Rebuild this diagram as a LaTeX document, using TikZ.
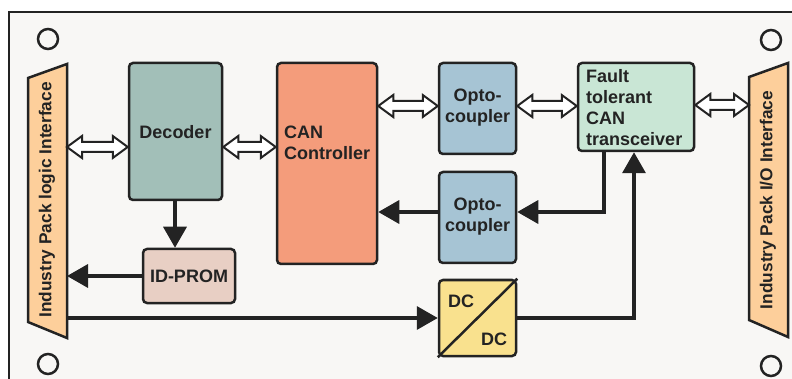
\documentclass[tikz,border=0pt]{standalone}
\usepackage{fontspec}
\setmainfont{Liberation Sans}
\usetikzlibrary{arrows.meta,calc}
\definecolor{bgc}{HTML}{F8F7F5}
\definecolor{ink}{HTML}{232323}
\definecolor{ifc}{HTML}{FDCF9B}
\definecolor{decc}{HTML}{A2BFB8}
\definecolor{promc}{HTML}{E8CFC4}
\definecolor{canc}{HTML}{F49C7B}
\definecolor{optc}{HTML}{A6C4D4}
\definecolor{ftc}{HTML}{C9E6D5}
\definecolor{dcc}{HTML}{F9E18E}
\tikzset{
  box/.style={draw=ink, line width=2.5pt, rounded corners=4pt, inner sep=0pt},
  txt/.style={text=ink, font=\fontsize{18}{21}\selectfont\bfseries, inner sep=0pt},
  iftxt/.style={text=ink, font=\fontsize{17.3}{20}\selectfont\bfseries, inner sep=0pt, rotate=90},
  arr/.style={draw=ink, line width=3.5pt, -{Triangle[length=21pt,width=23pt]}},
  dbl/.style={draw=ink, line width=2pt, fill=white, line join=miter,
    to path={let \p1=(\tikztostart), \p2=(\tikztotarget) in
      (\x1,\y1) -- (\x1+15pt,\y1+11pt) -- (\x1+15pt,\y1+5pt) -- (\x2-15pt,\y1+5pt)
      -- (\x2-15pt,\y1+11pt) -- (\x2,\y1) -- (\x2-15pt,\y1-11pt) -- (\x2-15pt,\y1-5pt)
      -- (\x1+15pt,\y1-5pt) -- (\x1+15pt,\y1-11pt) -- cycle}},
  hole/.style={draw=ink, line width=2.5pt}
}
\begin{document}
\begin{tikzpicture}[x=1pt,y=-1pt]
\useasboundingbox (0,0) rectangle (792,379);
\clip (0,0) rectangle (792,379);
\fill[white] (0,0) rectangle (792,379);
% frame
\draw[draw=ink, line width=2.5pt, fill=bgc] (9,12) rectangle (805,395);
% mounting holes
\draw[hole] (48,39) circle (10);
\draw[hole] (771,40) circle (10);
\draw[hole] (48,364) circle (10);
\draw[hole] (771,366) circle (10);
% interfaces
\draw[draw=ink, line width=2.5pt, fill=ifc, line join=miter] (28,78) -- (67,64) -- (67,338) -- (28,322) -- cycle;
\draw[draw=ink, line width=2.5pt, fill=ifc, line join=miter] (749,77) -- (788,63) -- (788,337) -- (749,320) -- cycle;
\node[iftxt] (liftxt) at (47,200) {Industry Pack logic Interface};
\node[iftxt] (riftxt) at (768,200) {Industry Pack I/O Interface};
\coordinate (lifE) at (67,200);
\coordinate (rifW) at (749,200);
% boxes
\node[box, fill=decc, minimum width=93pt, minimum height=137pt] (dec) at (175.5,131.5) {};
\node[txt] (dectxt) at (175.5,132) {Decoder};
\node[box, fill=promc, minimum width=92pt, minimum height=54pt] (prom) at (189,276) {};
\node[txt] (promtxt) at (189,276) {ID-PROM};
\node[box, fill=canc, minimum width=100pt, minimum height=201pt] (can) at (327,163.5) {};
\node[txt, anchor=west, align=left] (cantxt) at (284,142.5) {CAN\\Controller};
\node[box, fill=optc, minimum width=77pt, minimum height=91pt] (opt1) at (477.5,108.5) {};
\node[txt, align=center] (opt1txt) at (477.5,107.5) {Opto-\\coupler};
\node[box, fill=optc, minimum width=77pt, minimum height=91pt] (opt2) at (477.5,217.5) {};
\node[txt, align=center] (opt2txt) at (477.5,216.5) {Opto-\\coupler};
\node[box, fill=ftc, minimum width=116pt, minimum height=88pt] (ft) at (636,107) {};
\node[txt, anchor=west, align=left] (fttxt) at (586,107.5) {Fault\\tolerant\\CAN\\transceiver};
\node[box, fill=dcc, minimum width=77pt, minimum height=76pt] (dc) at (477.5,318) {};
\draw[draw=ink, line width=2.5pt] (dc.south west) -- (dc.north east);
\node[txt] (dc1) at (461,301) {DC};
\node[txt] (dc2) at (494,339) {DC};
% double arrows
\draw[dbl] (lifE |- 0,147) to (dec.west |- 0,147);
\draw[dbl] (dec.east |- 0,147) to (can.west |- 0,147);
\draw[dbl] (can.east |- 0,106) to (opt1.west |- 0,106);
\draw[dbl] (opt1.east |- 0,106) to (ft.west |- 0,106);
\draw[dbl] (ft.east |- 0,105) to (rifW |- 0,105);
% single arrows
\draw[arr] (dec.south -| 175,0) -- (prom.north -| 175,0);
\draw[arr] (prom.west) -- (lifE |- prom.west);
\draw[arr] (lifE |- dc.west) -- (dc.west);
\draw[arr] (dc.east) -| ([xshift=-2pt]ft.south);
\draw[arr] ([xshift=-32pt]ft.south) |- ([yshift=5.5pt]opt2.east);
\draw[arr] ([yshift=5.5pt]opt2.west) -- (can.east |- 0,212);
\end{tikzpicture}
\end{document}
